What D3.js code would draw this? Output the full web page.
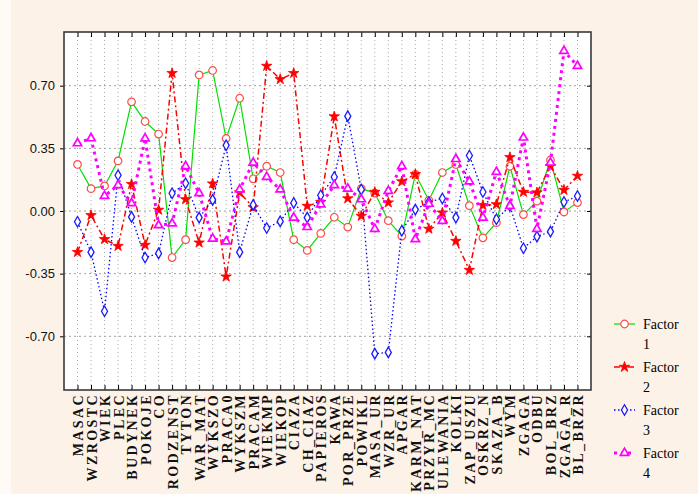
<!DOCTYPE html>
<html>
<head>
<meta charset="utf-8">
<script src="https://cdn.jsdelivr.net/npm/d3@7"></script>
<style>
  body { margin: 0; background: #fdf2e8; }
  svg { display: block; }
</style>
</head>
<body>
<script>
'use strict';

const categories = ["MASAC", "WZROSTC", "WIEK", "PLEC", "BUDYNEK", "POKOJE", "CO", "RODZENST",
  "TYTON", "WAR_MAT", "WYKSZO", "PRACA0", "WYKSZM", "PRACAM", "WIEKMP", "WIEKOP", "CIAZA",
  "CH_CIAZ", "PAPIEROS", "KAWA", "POR_PRZE", "POWIKL", "MASA_UR", "WZR_UR", "APGAR",
  "KARM_NAT", "PRZYR_MC", "ULEWANIA", "KOLKI", "ZAP_USZU", "OSKRZ_N", "SKAZA_B", "WYM",
  "ZGAGA", "ODBU", "BOL_BRZ", "ZGAGA_R", "BL_BRZR"];

const factor1 = [0.26, 0.125, 0.14, 0.28, 0.61, 0.50, 0.43, -0.26, -0.16, 0.76, 0.785, 0.405,
  0.63, 0.18, 0.25, 0.215, -0.16, -0.22, -0.125, -0.035, -0.09, 0.125, 0.10, -0.054, -0.14,
  0.205, 0.06, 0.215, 0.26, 0.03, -0.15, -0.065, 0.25, -0.02, 0.055, 0.285, -0.005, 0.047];

const factor2 = [-0.23, -0.024, -0.158, -0.196, 0.15, -0.19, 0.006, 0.77, 0.065, -0.177, 0.153,
  -0.367, 0.103, 0.02, 0.81, 0.736, 0.77, 0.028, 0.05, 0.528, 0.07, -0.028, 0.106, 0.047,
  0.165, 0.205, -0.10, -0.01, -0.168, -0.33, 0.032, 0.037, 0.30, 0.106, 0.103, 0.25, 0.117, 0.196];

const factor3 = [-0.06, -0.23, -0.56, 0.20, -0.033, -0.26, -0.237, 0.099, 0.155, -0.037, 0.062,
  0.367, -0.23, 0.034, -0.095, -0.058, 0.045, -0.037, 0.088, 0.19, 0.53, 0.12, -0.797, -0.79,
  -0.11, 0.008, 0.05, 0.07, -0.037, 0.31, 0.106, -0.046, 0.028, -0.208, -0.143, -0.115, 0.05, 0.084];

const factor4 = [0.378, 0.406, 0.084, 0.144, 0.043, 0.405, -0.08, -0.07, 0.25, 0.099, -0.155,
  -0.17, 0.12, 0.27, 0.19, 0.12, -0.037, -0.09, 0.037, 0.144, 0.125, 0.065, -0.10, 0.112, 0.25,
  -0.158, 0.04, -0.056, 0.29, 0.165, -0.037, 0.218, 0.028, 0.41, -0.10, 0.27, 0.894, 0.81];

const yTicks = [-0.70, -0.35, 0.00, 0.35, 0.70];
const seriesNames = ["Factor 1", "Factor 2", "Factor 3", "Factor 4"];

const width = 698, height = 494;
const plot = {left: 64, right: 591, top: 32, bottom: 390};

const svg = d3.select("body").append("svg")
  .attr("width", width)
  .attr("height", height);

// background
svg.append("rect").attr("width", width).attr("height", height).attr("fill", "#fdf2e8");
svg.append("rect").attr("width", 11).attr("height", height).attr("fill", "#fffaf6");
svg.append("rect")
  .attr("x", plot.left).attr("y", plot.top)
  .attr("width", plot.right - plot.left).attr("height", plot.bottom - plot.top)
  .attr("fill", "#ffffff");

const x = d3.scalePoint().domain(categories).range([plot.left, plot.right]).padding(1);
const y = d3.scaleLinear().domain([-1, 1]).range([plot.bottom, plot.top]);

// grid lines
svg.append("g").selectAll("line")
  .data(categories).enter().append("line")
  .attr("x1", d => x(d)).attr("x2", d => x(d))
  .attr("y1", plot.top).attr("y2", plot.bottom)
  .style("stroke", "#aaaaaa").style("stroke-width", 1).style("stroke-dasharray", "1,3");

svg.append("g").selectAll("line")
  .data(yTicks).enter().append("line")
  .attr("x1", plot.left).attr("x2", plot.right)
  .attr("y1", d => y(d)).attr("y2", d => y(d))
  .style("stroke", "#a0a0a0").style("stroke-width", 1).style("stroke-dasharray", "2,3");

// axes
const fmt = d => d.toFixed(2);

const yAxis = svg.append("g")
  .attr("transform", "translate(" + plot.left + ",0)")
  .call(d3.axisLeft(y).tickValues(yTicks).tickFormat(fmt).tickSize(4).tickPadding(5));
yAxis.select(".domain").remove();
yAxis.selectAll("text")
  .style("font-family", "Liberation Sans Narrow, Liberation Sans, Arial, sans-serif")
  .style("font-size", "13px").style("fill", "#111");

const yAxisR = svg.append("g")
  .attr("transform", "translate(" + plot.right + ",0)")
  .call(d3.axisLeft(y).tickValues(yTicks).tickFormat("").tickSize(4));
yAxisR.select(".domain").remove();

const xTop = svg.append("g")
  .attr("transform", "translate(0," + plot.top + ")")
  .call(d3.axisTop(x).tickSizeInner(-5).tickSizeOuter(0).tickFormat(""));
xTop.select(".domain").remove();

const xAxis = svg.append("g")
  .attr("transform", "translate(0," + plot.bottom + ")")
  .call(d3.axisBottom(x).tickSizeInner(-5).tickSizeOuter(0));
xAxis.select(".domain").remove();
xAxis.selectAll("text")
  .attr("transform", "rotate(-90)")
  .attr("x", -3)
  .attr("y", 0)
  .attr("dy", ".36em")
  .style("text-anchor", "end")
  .style("font-family", "Liberation Serif, Times New Roman, serif")
  .style("font-weight", "bold")
  .style("font-size", "14px")
  .style("letter-spacing", "2.4px")
  .style("fill", "#111");

// frame
svg.append("rect")
  .attr("x", plot.left).attr("y", plot.top)
  .attr("width", plot.right - plot.left).attr("height", plot.bottom - plot.top)
  .attr("fill", "none").style("stroke", "#3a3a3a").style("stroke-width", 1.6);

// series styling
const styles = [
  {data: factor1, line: "#00e000", lw: 1.2, dash: null, symbol: d3.symbolCircle, size: 45,
   mStroke: "#ff4a4a", mFill: "#ffffff", mw: 1.2},
  {data: factor2, line: "#ff0000", lw: 1.5, dash: "6,3,2,3", symbol: d3.symbolStar, size: 34,
   mStroke: "#ff0000", mFill: "#ff0000", mw: 0.8},
  {data: factor3, line: "#0000ff", lw: 1.3, dash: "1.5,2.5", symbol: d3.symbolDiamond, size: 32,
   mStroke: "#1a1aff", mFill: "#ffffff", mw: 1.3},
  {data: factor4, line: "#ff00ff", lw: 3, dash: "3,4", symbol: d3.symbolTriangle, size: 30,
   mStroke: "#ff00ff", mFill: "#ffffff", mw: 1.7}
];

const line = d3.line()
  .x((d, i) => x(categories[i]))
  .y(d => y(d));

styles.forEach(s => {
  svg.append("path")
    .datum(s.data)
    .attr("d", line)
    .attr("fill", "none")
    .style("stroke", s.line)
    .style("stroke-width", s.lw)
    .style("stroke-dasharray", s.dash);

  svg.append("g").selectAll("path")
    .data(s.data).enter().append("path")
    .attr("d", d3.symbol().type(s.symbol).size(s.size))
    .attr("transform", (d, i) => "translate(" + x(categories[i]) + "," + y(d) + ")")
    .attr("fill", s.mFill)
    .style("stroke", s.mStroke)
    .style("stroke-width", s.mw);
});

// legend
const legend = svg.append("g").attr("class", "legend");
styles.forEach((s, i) => {
  const ly = 324 + i * 43;
  legend.append("line")
    .attr("x1", 614).attr("x2", 635).attr("y1", ly).attr("y2", ly)
    .style("stroke", s.line).style("stroke-width", s.lw)
    .style("stroke-dasharray", s.dash);
  legend.append("path")
    .attr("d", d3.symbol().type(s.symbol).size(s.size))
    .attr("transform", "translate(624.5," + ly + ")")
    .attr("fill", s.mFill)
    .style("stroke", s.mStroke)
    .style("stroke-width", s.mw);
  const words = seriesNames[i].split(" ");
  legend.append("text")
    .attr("x", 643).attr("y", ly + 5)
    .style("font-family", "Liberation Serif, Times New Roman, serif")
    .style("font-size", "14px")
    .text(words[0]);
  legend.append("text")
    .attr("x", 643).attr("y", ly + 25)
    .style("font-family", "Liberation Serif, Times New Roman, serif")
    .style("font-size", "14px")
    .text(words[1]);
});
</script>
</body>
</html>
